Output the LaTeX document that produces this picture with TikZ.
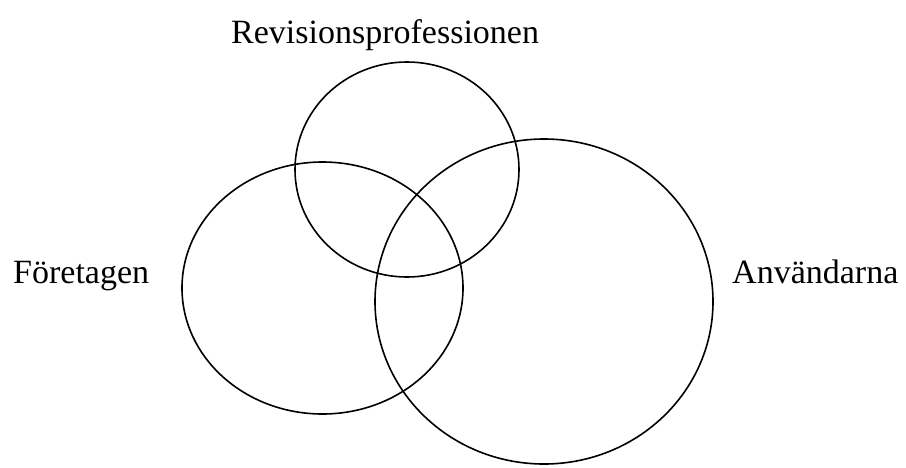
\documentclass[tikz,border=0pt]{standalone}
\usepackage{fontspec}
\setmainfont{Liberation Serif}
\begin{document}
\begin{tikzpicture}[x=1pt,y=-1pt,
  ring/.style={draw=black,line width=1.6pt},
  lbl/.style={font=\fontsize{34}{40}\selectfont,inner sep=0pt,anchor=base west}]
\useasboundingbox (0,0) rectangle (906,467);
% three overlapping groups
\draw[ring] (407,169.5) ellipse [x radius=112,y radius=107.5];
\draw[ring] (322.5,288) ellipse [x radius=140.5,y radius=126];
\draw[ring] (544,301.5) ellipse [x radius=169,y radius=162.5];
% group names
\node[lbl] (rev) at (231,43) {Revisionsprofessionen};
\node[lbl] (for) at (13,283) {Företagen};
\node[lbl] (anv) at (732,283) {Användarna};
\end{tikzpicture}
\end{document}
